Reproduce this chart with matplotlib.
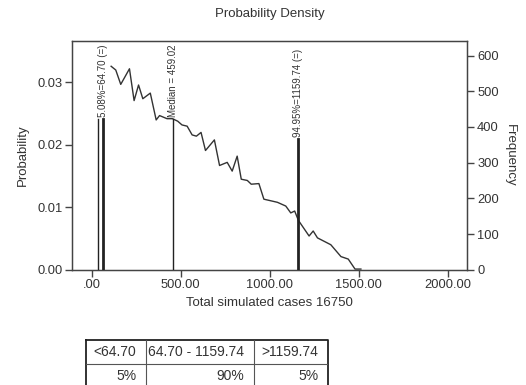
import matplotlib
matplotlib.use("Agg")
import matplotlib.pyplot as plt
from matplotlib.ticker import FixedLocator, FuncFormatter

plt.rcParams["font.family"] = ["Liberation Sans", "DejaVu Sans"]

TEXT_COLOR = "#333333"

# ----- density curve -----
cases = [109, 135, 163, 212, 238, 263, 287, 329, 362, 381, 423, 453, 483, 507,
         536, 564, 588, 614, 639, 689, 718, 761, 789, 817, 840, 874, 896, 939,
         967, 1043, 1090, 1118, 1140, 1161, 1221, 1244, 1268, 1343, 1400, 1441,
         1479, 1512]
prob = [0.0326, 0.0320, 0.0297, 0.0322, 0.0271, 0.0296, 0.0274, 0.0283, 0.0240,
        0.0247, 0.0242, 0.0242, 0.0238, 0.0232, 0.0230, 0.0216, 0.0214, 0.0220,
        0.0191, 0.0208, 0.0167, 0.0172, 0.0158, 0.0182, 0.0145, 0.0143, 0.0137,
        0.0138, 0.0113, 0.0108, 0.0102, 0.0091, 0.0094, 0.0079, 0.0054, 0.0062,
        0.0051, 0.0040, 0.0021, 0.0017, 0.0001, 0.0001]

# ----- marker lines -----
mark_x = [35, 64.70, 459.02, 1159.74]
mark_top = [0.0242, 0.0242, 0.0242, 0.0210]
mark_width = [1.0, 2.0, 1.0, 2.0]
mark_labels = ["", "5.08%=64.70 (=)", "Median = 459.02", "94.95%=1159.74 (=)"]

# ----- axes ticks -----
x_ticks = [0, 500, 1000, 1500, 2000]
prob_ticks = [0.00, 0.01, 0.02, 0.03]
freq_ticks = [0, 100, 200, 300, 400, 500, 600]

# ----- summary table -----
table_head = ["<64.70", "64.70 - 1159.74", ">1159.74"]
table_vals = ["5%", "90%", "5%"]

TICK_FS = 9.3
LABEL_FS = 9.5


def main():
    fig = plt.figure(figsize=(5.26, 3.85), dpi=100)
    ax = fig.add_axes([0.1375, 0.2995, 0.751, 0.594])

    ax.plot(cases, prob, color="#333333", lw=1.0, zorder=2)

    for x, top, lw, lab in zip(mark_x, mark_top, mark_width, mark_labels):
        ax.plot([x, x], [0, top], color="#222222", lw=lw, zorder=3)
        if lab:
            ax.text(x, top + 0.0002, lab, rotation=90, ha="center", va="bottom",
                    fontsize=7, color=TEXT_COLOR, zorder=4,
                    bbox=dict(facecolor="white", edgecolor="none", pad=0.3))

    ax.set_xlim(-109, 2110)
    ax.set_ylim(0, 0.03665)
    ax.xaxis.set_major_locator(FixedLocator(x_ticks))
    ax.xaxis.set_major_formatter(FuncFormatter(lambda v, p: ".00" if v == 0 else f"{v:.2f}"))
    ax.yaxis.set_major_locator(FixedLocator(prob_ticks))
    ax.yaxis.set_major_formatter(FuncFormatter(lambda v, p: f"{v:.2f}"))
    ax.tick_params(labelsize=TICK_FS, colors=TEXT_COLOR, length=5, width=1,
                   direction="out", pad=2)
    ax.tick_params(axis="both", color="#444444")
    for s in ax.spines.values():
        s.set_color("#444444")
        s.set_linewidth(1)

    ax.set_xlabel("Total simulated cases 16750", fontsize=LABEL_FS, color=TEXT_COLOR, labelpad=4)
    ax.set_ylabel("Probability", fontsize=LABEL_FS, color=TEXT_COLOR, labelpad=6)
    ax.set_title("Probability Density", fontsize=LABEL_FS, color=TEXT_COLOR, pad=17)

    ax2 = ax.twinx()
    ax2.set_ylim(0, 641)
    ax2.yaxis.set_major_locator(FixedLocator(freq_ticks))
    ax2.tick_params(labelsize=TICK_FS, colors=TEXT_COLOR, length=5, width=1,
                    color="#444444", pad=2)
    ax2.set_ylabel("Frequency", fontsize=LABEL_FS, color=TEXT_COLOR, rotation=-90, labelpad=12)
    for s in ax2.spines.values():
        s.set_color("#444444")

    # ----- table under the chart -----
    tab = fig.add_axes([86 / 526, -3 / 385, 242 / 526, 48 / 385])
    tab.set_xlim(0, 1)
    tab.set_ylim(1, 0)
    tab.axis("off")
    col_edges = [0, 0.248, 0.694, 1]
    tab.plot([0, 1, 1, 0, 0], [0, 0, 1, 1, 0], color="#222222", lw=1.3, clip_on=False)
    tab.plot([0, 1], [0.5, 0.5], color="#555555", lw=0.8)
    for e in col_edges[1:-1]:
        tab.plot([e, e], [0, 1], color="#555555", lw=0.8)
    for i in range(3):
        right = col_edges[i + 1] - 0.04
        tab.text(right, 0.25, table_head[i], ha="right", va="center",
                 fontsize=10, color=TEXT_COLOR)
        tab.text(right, 0.75, table_vals[i], ha="right", va="center",
                 fontsize=10, color=TEXT_COLOR)

    fig.savefig("out.png", dpi=100)
    plt.close(fig)


if __name__ == "__main__":
    main()
